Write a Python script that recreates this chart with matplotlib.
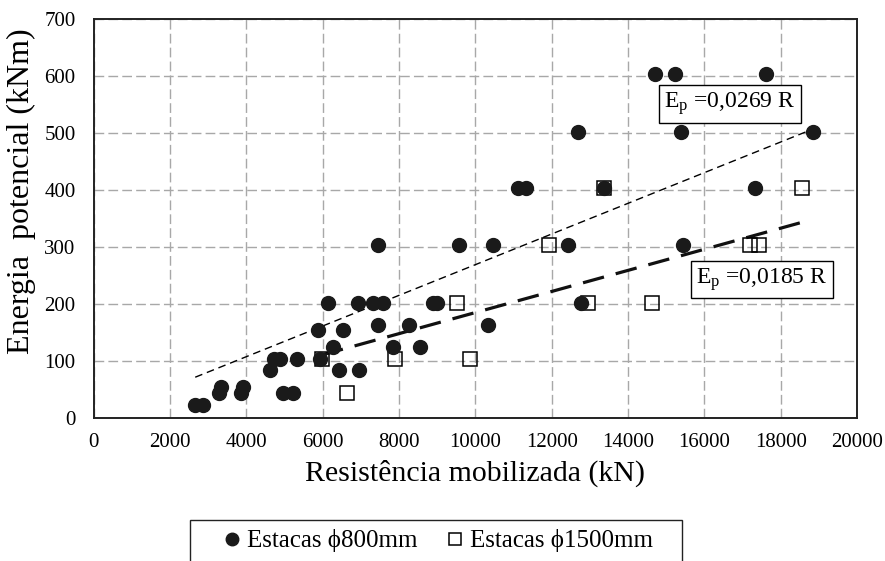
import matplotlib
matplotlib.use("Agg")
import matplotlib.pyplot as plt
from matplotlib.patches import Rectangle
import numpy as np

plt.rcParams['font.family'] = ['Liberation Serif', 'DejaVu Serif']
plt.rcParams['mathtext.fontset'] = 'custom'
plt.rcParams['mathtext.rm'] = 'Liberation Serif'
plt.rcParams['mathtext.it'] = 'Liberation Serif:italic'

# ---- data ----
r800 = [2660, 2870, 3290, 3340, 3920, 3860, 4620, 4730, 4880, 4970, 5210, 5320,
        5930, 5890, 6130, 6260, 6430, 6520, 6920, 6940, 7310, 7440, 7440, 7570,
        7830, 8250, 8550, 8880, 9000, 9560, 10320, 10450, 11130, 11330, 12440,
        12690, 12770, 13360, 14710, 15220, 15390, 15440, 17330, 17620, 18850]
e800 = [23, 23, 44, 55, 55, 44, 84, 103, 103, 44, 44, 103,
        103, 154, 202, 124, 84, 154, 202, 84, 202, 163, 304, 202,
        124, 163, 124, 202, 202, 304, 163, 304, 403, 403, 304,
        502, 202, 403, 603, 603, 502, 304, 403, 603, 502]
r1500 = [5980, 6630, 7900, 9510, 9850, 11920, 12960, 13360, 14620, 17200, 17420, 18560]
e1500 = [103, 44, 103, 202, 103, 304, 202, 403, 202, 304, 304, 403]
coef800 = 0.0269
coef1500 = 0.0185
label800 = "Estacas \u03d5800mm"
label1500 = "Estacas \u03d51500mm"
eq800 = r"E$_\mathrm{p}$ =0,0269 R"
eq1500 = r"E$_\mathrm{p}$ =0,0185 R"
xticks = list(range(0, 20001, 2000))
yticks = list(range(0, 701, 100))

W, H = 885, 561
fig = plt.figure(figsize=(W / 100, H / 100), dpi=100)
x0, x1, ytop, ybot = 93.7, 857.0, 19.0, 418.0
ax = fig.add_axes([x0 / W, 1 - ybot / H, (x1 - x0) / W, (ybot - ytop) / H])

ax.set_xlim(0, 20000)
ax.set_ylim(0, 700)
ax.set_xticks(xticks)
ax.set_yticks(yticks)
ax.tick_params(axis='both', length=0, labelsize=15)
ax.tick_params(axis='x', pad=11)
ax.tick_params(axis='y', pad=13)

ax.grid(True, color='#a8a8a8', linewidth=1.0, linestyle=(0, (7, 3)))
ax.set_axisbelow(True)
for s in ax.spines.values():
    s.set_linewidth(1.4)
    s.set_color('#222222')

# trend lines
xa = np.array([min(r800), max(r800)])
l1, = ax.plot(xa, coef800 * xa, color='black', lw=1.0, zorder=2)
l1.set_dashes((5.5, 3.5))
xb = np.array([min(r1500), max(r1500)])
l2, = ax.plot(xb, coef1500 * xb, color='#111111', lw=2.3, zorder=2)
l2.set_dashes((6.8, 3.8))

ax.plot(r1500, e1500, linestyle='none', marker='s', markersize=9.5,
        markerfacecolor='none', markeredgecolor='black', markeredgewidth=1.1,
        zorder=3, label=label1500)
ax.plot(r800, e800, linestyle='none', marker='o', markersize=10,
        markerfacecolor='#1a1a1a', markeredgecolor='#1a1a1a', zorder=4,
        label=label800)

ax.text((730 - x0) / (x1 - x0), (ybot - 104) / (ybot - ytop), eq800,
        transform=ax.transAxes, ha='center', va='center', fontsize=17,
        bbox=dict(boxstyle='square,pad=0.22', facecolor='white',
                  edgecolor='black', linewidth=1.0), zorder=5)
ax.text((762 - x0) / (x1 - x0), (ybot - 279.5) / (ybot - ytop), eq1500,
        transform=ax.transAxes, ha='center', va='center', fontsize=17,
        bbox=dict(boxstyle='square,pad=0.22', facecolor='white',
                  edgecolor='black', linewidth=1.0), zorder=5)

ax.set_xlabel("Resistência mobilizada (kN)", fontsize=21.5)
ax.xaxis.set_label_coords(0.5, (ybot - 460) / (ybot - ytop))
ax.set_ylabel("Energia  potencial (kNm)", fontsize=23)
ax.yaxis.set_label_coords((21 - x0) / (x1 - x0), (ybot - 191) / (ybot - ytop))
ax.yaxis.label.set_va('center')

# legend
fig.patches.append(Rectangle((190 / W, 1 - 562 / H), 492 / W, 42 / H,
                             transform=fig.transFigure, facecolor='white',
                             edgecolor='#222222', linewidth=1.0))
h, lab = ax.get_legend_handles_labels()
leg = fig.legend([h[1], h[0]], [lab[1], lab[0]], loc='center left',
                 bbox_to_anchor=(222 / W, 1 - 541 / H), ncol=2, frameon=False,
                 fontsize=18, handlelength=0.8, handletextpad=0.2,
                 columnspacing=1.1, borderpad=0, borderaxespad=0,
                 markerscale=0.9)

fig.savefig("out.png", dpi=100)
